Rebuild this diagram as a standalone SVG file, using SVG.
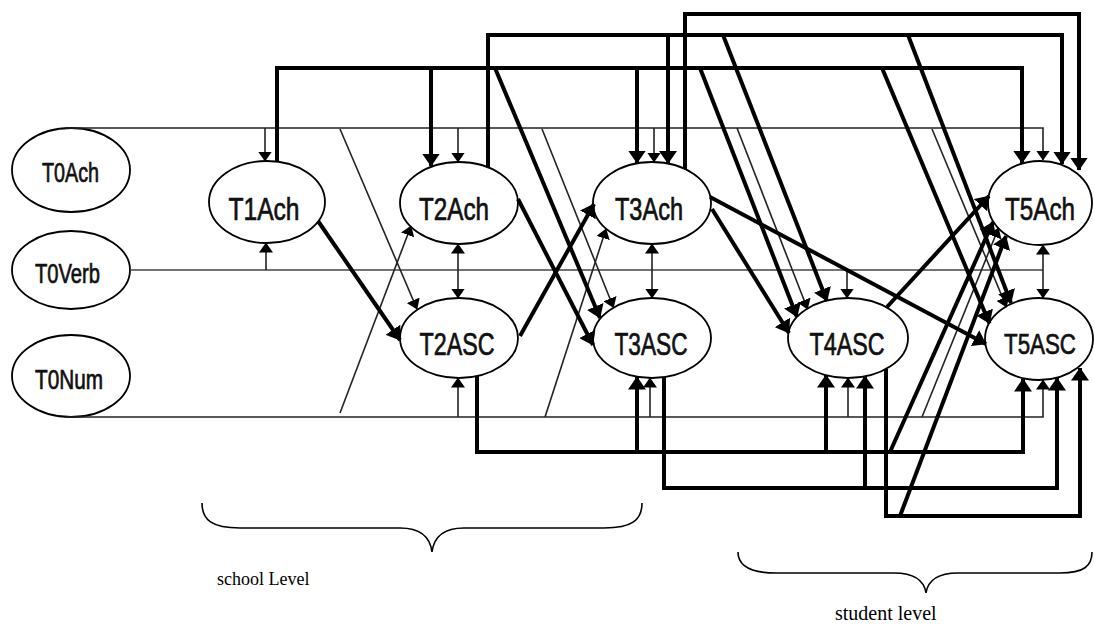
<svg xmlns="http://www.w3.org/2000/svg" width="1094" height="631" viewBox="0 0 1094 631">
<defs>
<marker id="ak" markerUnits="userSpaceOnUse" markerWidth="13" markerHeight="18" viewBox="0 0 13 18" refX="12.5" refY="9" orient="auto"><path d="M0,0 L13,9 L0,18 z" fill="#000"/></marker>
<marker id="an" markerUnits="userSpaceOnUse" markerWidth="10" markerHeight="14" viewBox="0 0 10 14" refX="9.5" refY="7" orient="auto"><path d="M0,0 L10,7 L0,14 z" fill="#000"/></marker>
<style>
.node ellipse{fill:#fff;stroke:#000;stroke-width:1.8}
.node text{font-family:"Liberation Sans",Arial,sans-serif;fill:#111;stroke:#111;stroke-width:0.7;text-anchor:middle}
.big{font-size:31px}
.small{font-size:27px}
.thick{fill:none;stroke:#000;stroke-width:4}
.thin{fill:none;stroke:#222;stroke-width:1.6}
.gray{stroke:#444}
.ak{marker-end:url(#ak)}
.an{marker-end:url(#an)}
.brace{fill:none;stroke:#000;stroke-width:1.6}
.lbl{font-family:"Liberation Serif","Times New Roman",serif;fill:#000}
</style>
</defs>
<rect width="1094" height="631" fill="#fff"/>
<g id="T0Ach" class="node"><ellipse cx="71" cy="170" rx="59" ry="42"/><text class="small" x="70.5" y="182" textLength="57" lengthAdjust="spacingAndGlyphs">T0Ach</text></g>
<g id="T0Verb" class="node"><ellipse cx="71" cy="270" rx="59" ry="39"/><text class="small" x="67.5" y="283" textLength="65" lengthAdjust="spacingAndGlyphs">T0Verb</text></g>
<g id="T0Num" class="node"><ellipse cx="71" cy="376" rx="59" ry="41"/><text class="small" x="69" y="389" textLength="68" lengthAdjust="spacingAndGlyphs">T0Num</text></g>
<g id="T1Ach" class="node"><ellipse cx="267" cy="202" rx="58" ry="41"/><text class="big" x="264" y="220" textLength="71" lengthAdjust="spacingAndGlyphs">T1Ach</text></g>
<g id="T2Ach" class="node"><ellipse cx="459" cy="203" rx="59" ry="41"/><text class="big" x="454" y="220" textLength="70" lengthAdjust="spacingAndGlyphs">T2Ach</text></g>
<g id="T3Ach" class="node"><ellipse cx="652" cy="203" rx="59" ry="41"/><text class="big" x="649" y="220" textLength="68" lengthAdjust="spacingAndGlyphs">T3Ach</text></g>
<g id="T5Ach" class="node"><ellipse cx="1040" cy="203" rx="52" ry="42"/><text class="big" x="1040" y="220" textLength="70" lengthAdjust="spacingAndGlyphs">T5Ach</text></g>
<g id="T2ASC" class="node"><ellipse cx="459" cy="338" rx="59" ry="40"/><text class="big" x="457" y="355" textLength="75" lengthAdjust="spacingAndGlyphs">T2ASC</text></g>
<g id="T3ASC" class="node"><ellipse cx="652" cy="338" rx="59" ry="40"/><text class="big" x="651" y="355" textLength="73" lengthAdjust="spacingAndGlyphs">T3ASC</text></g>
<g id="T4ASC" class="node"><ellipse cx="848" cy="338" rx="60" ry="40"/><text class="big" x="847" y="355" textLength="75" lengthAdjust="spacingAndGlyphs">T4ASC</text></g>
<g id="T5ASC" class="node"><ellipse cx="1039" cy="339" rx="54" ry="41"/><text x="1040" y="354" font-size="29" textLength="72" lengthAdjust="spacingAndGlyphs">T5ASC</text></g>
<g id="connectors">
<path class="thin an" d="M65,128 H1043 V160"/>
<path class="thin an" d="M265,128 V161"/>
<path class="thin an" d="M458,128 V162"/>
<path class="thin an" d="M654,128 V162"/>
<path class="thin gray" d="M130,270 H1043"/>
<path class="thin an" d="M266,270 V243"/>
<path class="thin an" d="M458,270 V244"/>
<path class="thin an" d="M458,270 V298"/>
<path class="thin an" d="M652,270 V244"/>
<path class="thin an" d="M652,270 V298"/>
<path class="thin an" d="M847,270 V298"/>
<path class="thin an" d="M1043,270 V245"/>
<path class="thin an" d="M1043,270 V298"/>
<path class="thin an" d="M65,417 H1043 V380"/>
<path class="thin an" d="M458,417 V378"/>
<path class="thin an" d="M650,417 V378"/>
<path class="thin an" d="M848,417 V378"/>
<path class="thin an" d="M340,129 L417,309"/>
<path class="thin an" d="M542,129 L613.5,307.5"/>
<path class="thin an" d="M737,128 L807.5,309"/>
<path class="thin an" d="M932,129 L1006.5,307"/>
<path class="thin an" d="M340,413 L411,226"/>
<path class="thin an" d="M545,417 L606,229"/>
<path class="thin an" d="M922,417 L998.5,228"/>
<path class="thick ak" d="M318,221 L400,340"/>
<path class="thick ak" d="M277,161 V68 H1022 V163"/>
<path class="thick ak" d="M431,68 V166"/>
<path class="thick ak" d="M637,68 V163"/>
<path class="thick ak" d="M495,68 L600,318"/>
<path class="thick ak" d="M700,68 L797,317"/>
<path class="thick ak" d="M882,68 L989.5,323.5"/>
<path class="thick ak" d="M488,167 V35 H1062 V164"/>
<path class="thick ak" d="M668,35 V163.5"/>
<path class="thick ak" d="M723,35 L827,301"/>
<path class="thick ak" d="M908,35 L1011,303"/>
<path class="thick ak" d="M685,169 V14 H1079 V170"/>
<path class="thick ak" d="M518,199 L593,345"/>
<path class="thick ak" d="M520,336 L594,204"/>
<path class="thick ak" d="M710,197 L986,344"/>
<path class="thick ak" d="M712,209 L789,333"/>
<path class="thick ak" d="M477,376 V452 H1023 V379"/>
<path class="thick ak" d="M637,452 V377"/>
<path class="thick ak" d="M826,452 V375"/>
<path class="thick ak" d="M664,377 V488 H1057 V378"/>
<path class="thick ak" d="M865,488 V376"/>
<path class="thick ak" d="M886,369 V516 H1080 V368"/>
<path class="thick ak" d="M887,307 L989,196"/>
<path class="thick ak" d="M890,452 L993,222"/>
<path class="thick ak" d="M900,516 L1006,236"/>
</g>
<g id="levels">
<path class="brace" d="M202,503 C202,520 212,528 240,528 L400,528 C420,528 430,536 432,552 C434,536 444,528 464,528 L604,528 C632,528 642,520 642,503"/>
<path class="brace" d="M738,552 C738,566 750,573 776,573 L894,573 C914,573 924,580 926,593 C928,580 938,573 958,573 L1060,573 C1084,573 1092,566 1092,552"/>
<text class="lbl" x="217" y="585" font-size="18">school Level</text>
<text class="lbl" x="835" y="620" font-size="20">student level</text>
</g>
</svg>
